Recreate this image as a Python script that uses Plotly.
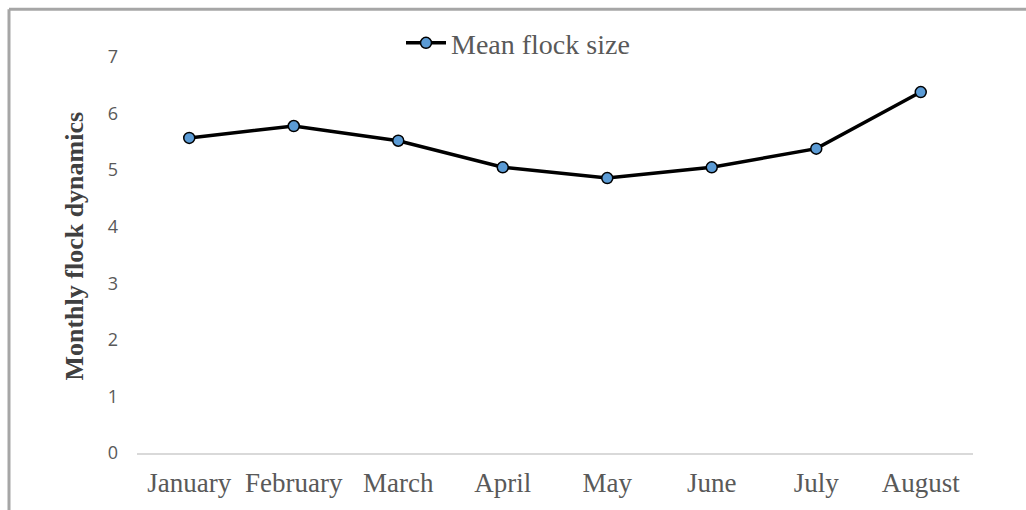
import plotly.graph_objects as go

months = ["January", "February", "March", "April", "May", "June", "July", "August"]
mean_flock_size = [5.57, 5.78, 5.52, 5.05, 4.86, 5.05, 5.38, 6.38]
y_ticks = [0, 1, 2, 3, 4, 5, 6, 7]
y_title = "Monthly flock dynamics"

fig = go.Figure()
fig.add_trace(go.Scatter(
    x=months, y=mean_flock_size, mode="lines+markers", name="Mean flock size",
    line=dict(color="black", width=3.5),
    marker=dict(size=11, color="#5B9BD5", line=dict(color="black", width=1.5)),
))

W, H = 1026, 510
ml, mr, mt, mb = 137, 53, 57, 54
pw, ph = W - ml - mr, H - mt - mb

def px_x(p):
    return (p - ml) / pw

def px_y(p):
    return (H - mb - p) / ph

fig.update_layout(
    width=W, height=H,
    margin=dict(l=ml, r=mr, t=mt, b=mb),
    paper_bgcolor="white", plot_bgcolor="white",
    showlegend=True,
    legend=dict(x=px_x(518), y=px_y(43), xanchor="center", yanchor="middle",
                orientation="h", bgcolor="rgba(0,0,0,0)",
                font=dict(family="Liberation Serif", size=28, color="#595959"),
                itemwidth=40),
    xaxis=dict(showgrid=False, showline=True, linecolor="#d9d9d9", linewidth=1.5,
               ticks="", zeroline=False, ticklabelstandoff=5, tickangle=0,
               tickfont=dict(family="Liberation Serif", size=27, color="#595959"),
               range=[-0.5, 7.5]),
    yaxis=dict(range=[0, 7], tickvals=y_ticks, showgrid=False, showline=False,
               zeroline=False, ticks="", ticklabelstandoff=18,
               tickfont=dict(family="Open Sans", size=18, color="#595959")),
    annotations=[
        dict(text=y_title, xref="paper", yref="paper", x=px_x(75), y=px_y(248),
             xanchor="center", yanchor="middle", textangle=-90, showarrow=False,
             font=dict(family="Liberation Serif", size=26, color="#404040",
                       weight="bold")),
    ],
    shapes=[
        dict(type="line", xref="paper", yref="paper", x0=px_x(9), x1=px_x(1030),
             y0=px_y(9), y1=px_y(9), line=dict(color="#a6a6a6", width=3)),
        dict(type="line", xref="paper", yref="paper", x0=px_x(9), x1=px_x(9),
             y0=px_y(9), y1=px_y(515), line=dict(color="#a6a6a6", width=3)),
    ],
)

fig.write_html("out.html")
